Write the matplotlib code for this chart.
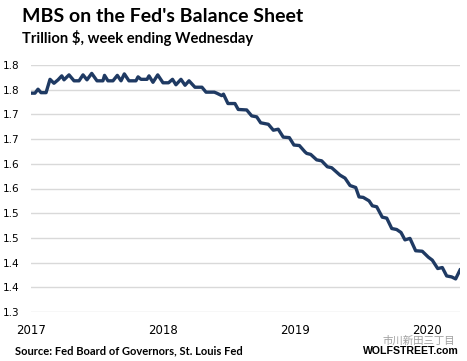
# -*- coding: utf-8 -*-
# MBS en el balance de la Fed, datos semanales

import numpy as np
import matplotlib.pyplot as plt

# %% Datos

# fecha en años decimales
fechas = [2017.000, 2017.030, 2017.053, 2017.076, 2017.114, 2017.144, 2017.174, 2017.205,
          2017.233, 2017.250, 2017.288, 2017.326, 2017.364, 2017.394, 2017.424, 2017.460,
          2017.500, 2017.545, 2017.557, 2017.583, 2017.621, 2017.654, 2017.682, 2017.707,
          2017.742, 2017.795, 2017.811, 2017.833, 2017.879, 2017.894, 2017.924, 2017.960,
          2018.000, 2018.042, 2018.072, 2018.098, 2018.136, 2018.167, 2018.197, 2018.242,
          2018.295, 2018.326, 2018.389, 2018.407, 2018.445, 2018.458, 2018.492, 2018.545,
          2018.570, 2018.634, 2018.672, 2018.710, 2018.740, 2018.798, 2018.836, 2018.873,
          2018.911, 2018.957, 2018.992, 2019.033, 2019.076, 2019.089, 2019.119, 2019.164,
          2019.202, 2019.245, 2019.278, 2019.341, 2019.379, 2019.417, 2019.460, 2019.485,
          2019.517, 2019.561, 2019.586, 2019.619, 2019.661, 2019.695, 2019.733, 2019.770,
          2019.803, 2019.833, 2019.871, 2019.914, 2019.964, 2020.010, 2020.040, 2020.081,
          2020.116, 2020.149, 2020.187, 2020.217, 2020.250]

# MBS en billones de dolares (trillion $)
mbs = [1.743, 1.743, 1.751, 1.744, 1.744, 1.771, 1.763, 1.770,
       1.778, 1.770, 1.780, 1.768, 1.768, 1.780, 1.770, 1.783,
       1.768, 1.768, 1.779, 1.768, 1.768, 1.779, 1.768, 1.782,
       1.768, 1.768, 1.776, 1.771, 1.771, 1.778, 1.765, 1.780,
       1.764, 1.764, 1.771, 1.760, 1.771, 1.759, 1.768, 1.755,
       1.755, 1.745, 1.745, 1.743, 1.738, 1.741, 1.722, 1.722,
       1.710, 1.709, 1.697, 1.695, 1.683, 1.680, 1.668, 1.670,
       1.654, 1.653, 1.638, 1.637, 1.624, 1.621, 1.619, 1.608,
       1.606, 1.594, 1.592, 1.577, 1.571, 1.556, 1.552, 1.533,
       1.532, 1.525, 1.515, 1.513, 1.492, 1.490, 1.469, 1.467,
       1.461, 1.446, 1.449, 1.424, 1.423, 1.411, 1.405, 1.388,
       1.390, 1.373, 1.371, 1.367, 1.385]

anios = [2017, 2018, 2019, 2020]
yticks = [1.30, 1.35, 1.40, 1.45, 1.50, 1.55, 1.60, 1.65, 1.70, 1.75, 1.80]
ytick_labels = ['1.3', '1.4', '1.4', '1.5', '1.5', '1.6', '1.6', '1.7', '1.7', '1.8', '1.8']

# %% Grafico

fig = plt.figure(figsize=(4.67, 3.61), dpi=100)
ax = fig.add_axes([31/467, 49/361, 429/467, 247/361])

ax.plot(fechas, mbs, color='#1F3A63', linewidth=2.4, solid_joinstyle='round')

ax.set_xlim(2017, 2020.25)
ax.set_ylim(1.30, 1.80)
ax.set_yticks(yticks)
ax.set_yticklabels(ytick_labels)
ax.set_xticks(anios)
ax.set_xticklabels([str(a) for a in anios])
ax.grid(axis='y', color='#D9D9D9', linewidth=1.0)
ax.set_axisbelow(True)
for s in ax.spines.values():
    s.set_visible(False)
ax.tick_params(axis='y', length=0, pad=8, labelsize=7.5)
ax.tick_params(axis='x', length=0, pad=9, labelsize=8.5)

# titulos
fig.text(22/467, 1 - 22/361, "MBS on the Fed's Balance Sheet", fontsize=14,
         fontweight='bold', family='Lato', va='baseline')
fig.text(22/467, 1 - 43.5/361, "Trillion $, week ending Wednesday", fontsize=10.6,
         fontweight='bold', family='Lato', va='baseline')
fig.text(15/467, 1 - 354/361, "Source: Fed Board of Governors, St. Louis Fed", fontsize=8,
         fontweight='bold', family='Lato', va='baseline')
fig.text(459/467, 1 - 354/361, "WOLFSTREET.com", fontsize=7.6,
         fontweight='bold', family='Liberation Sans', va='baseline', ha='right')
# marca de agua
fig.text(455/467, 1 - 341/361, "市川新田三丁目", fontsize=7.5, color='#A0A0A0',
         family=['Noto Sans CJK JP', 'DejaVu Sans'], va='center', ha='right')

plt.savefig('out.png', dpi=100)
